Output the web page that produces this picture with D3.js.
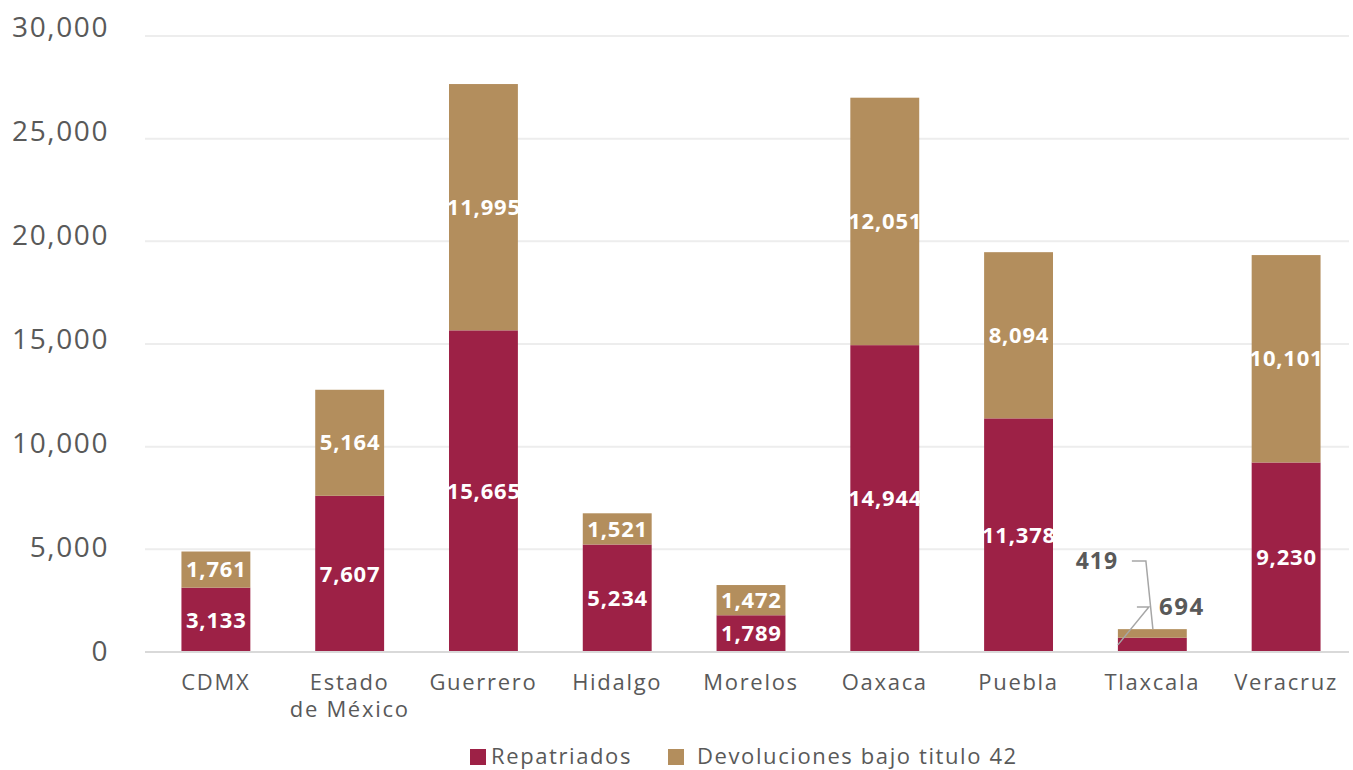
<!DOCTYPE html>
<html><head><meta charset="utf-8">
<script src="https://cdn.jsdelivr.net/npm/d3@7"></script>
<style>body{margin:0;background:#fff}svg{display:block}</style>
</head><body>
<svg id="c" width="1353" height="770"></svg>
<script>
const categories = ["CDMX","Estado de México","Guerrero","Hidalgo","Morelos","Oaxaca","Puebla","Tlaxcala","Veracruz"];
const repatriados = [3133,7607,15665,5234,1789,14944,11378,694,9230];
const devoluciones = [1761,5164,11995,1521,1472,12051,8094,419,10101];
const yTicks = [0,5000,10000,15000,20000,25000,30000];
const seriesNames = ["Repatriados","Devoluciones bajo titulo 42"];
const colors = ["#9D2146","#B38E5D"];

const svg = d3.select("#c");
const FONT = "'Open Sans', sans-serif";
const textCol = "#595959";
const x = d3.scaleBand().domain(categories).range([149,1353]).paddingInner(0.485).paddingOuter(0.2425);
const y = d3.scaleLinear().domain([0,30000]).range([652,36]);
// tick labels sit on a slightly different scale in the reference
const yLab = d3.scaleLinear().domain([0,30000]).range([651,27]);

// gridlines
svg.append("g").selectAll("line").data(yTicks.slice(1)).join("line")
  .attr("x1",145).attr("x2",1349).attr("y1",d=>y(d)).attr("y2",d=>y(d))
  .attr("stroke","#ededed").attr("stroke-width",2);

// y axis labels
const yAxis = d3.axisLeft(yLab).tickValues(yTicks).tickSize(0).tickPadding(0).tickFormat(d3.format(","));
const ya = svg.append("g").attr("transform","translate(109,0)").call(yAxis);
ya.select(".domain").remove();
ya.selectAll("text").attr("font-family",FONT).attr("font-size",28).attr("letter-spacing","1.6px")
  .attr("fill",textCol).attr("dy","0.35em");

const data = categories.map((c,i)=>({c, r:repatriados[i], d:devoluciones[i]}));
const stack = d3.stack().keys(["r","d"])(data);

const g = svg.append("g");
stack.forEach((s,si)=>{
  g.append("g").selectAll("rect").data(s).join("rect")
    .attr("x",d=>x(d.data.c)).attr("width",x.bandwidth())
    .attr("y",d=>y(d[1])).attr("height",d=>y(d[0])-y(d[1]))
    .attr("fill",colors[si]);
});

// baseline
svg.append("line").attr("x1",145).attr("x2",1349).attr("y1",y(0)).attr("y2",y(0))
  .attr("stroke","#d9d9d9").attr("stroke-width",2);

// value labels
const fmt = d3.format(",");
stack.forEach((s,si)=>{
  g.append("g").selectAll("text").data(s.filter(d=>d.data.c!=="Tlaxcala")).join("text")
    .attr("x",d=>x(d.data.c)+x.bandwidth()/2+0.4)
    .attr("y",d=>(y(d[0])+y(d[1]))/2)
    .attr("dy","0.35em").attr("text-anchor","middle")
    .attr("font-family",FONT).attr("font-weight",700).attr("font-size",22).attr("letter-spacing","0.8px")
    .attr("fill","#fff").text(d=>fmt(d[1]-d[0]));
});

// Tlaxcala callouts
const ti = categories.indexOf("Tlaxcala");
const tx = x("Tlaxcala"), tw = x.bandwidth();
const tr = repatriados[ti], td = devoluciones[ti];
const lab = svg.append("g");
// 419 (devoluciones)
lab.append("polyline").attr("fill","none").attr("stroke","#a6a6a6").attr("stroke-width",1.5)
  .attr("points",[[tx+14,561],[tx+28,561],[tx+35,y(tr+td)]].map(p=>p.join(",")).join(" "));
lab.append("text").attr("x",tx-21).attr("y",561).attr("dy","0.35em").attr("text-anchor","middle")
  .attr("font-family",FONT).attr("font-weight",700).attr("font-size",23).attr("letter-spacing","1px")
  .attr("fill",textCol).text(fmt(td));
// 694 (repatriados)
lab.append("polyline").attr("fill","none").attr("stroke","#a6a6a6").attr("stroke-width",1.5)
  .attr("points",[[tx+19,607],[tx+31,607],[tx,y(tr/2)]].map(p=>p.join(",")).join(" "));
lab.append("text").attr("x",tx+64).attr("y",607).attr("dy","0.35em").attr("text-anchor","middle")
  .attr("font-family",FONT).attr("font-weight",700).attr("font-size",24).attr("letter-spacing","1.5px")
  .attr("fill",textCol).text(fmt(tr));

// x axis labels
const xl = svg.append("g").selectAll("text").data(categories).join("text")
  .attr("x",d=>x(d)+tw/2).attr("y",690).attr("text-anchor","middle")
  .attr("font-family",FONT).attr("font-size",22).attr("letter-spacing","1.7px").attr("fill",textCol);
xl.each(function(d){
  const t = d3.select(this);
  const parts = d==="Estado de México" ? ["Estado","de México"] : [d];
  parts.forEach((p,i)=>t.append("tspan").attr("x",x(d)+tw/2).attr("dy",i?27:0).text(p));
});

// legend
const leg = svg.append("g");
const lx = [470,668];
const ltx = [491,697];
seriesNames.forEach((n,i)=>{
  leg.append("rect").attr("x",lx[i]).attr("y",749).attr("width",16).attr("height",16).attr("fill",colors[i]);
  leg.append("text").attr("x",ltx[i]).attr("y",764).attr("font-family",FONT).attr("font-size",22)
    .attr("letter-spacing","1.6px").attr("fill",textCol).text(n);
});
</script>
</body></html>
